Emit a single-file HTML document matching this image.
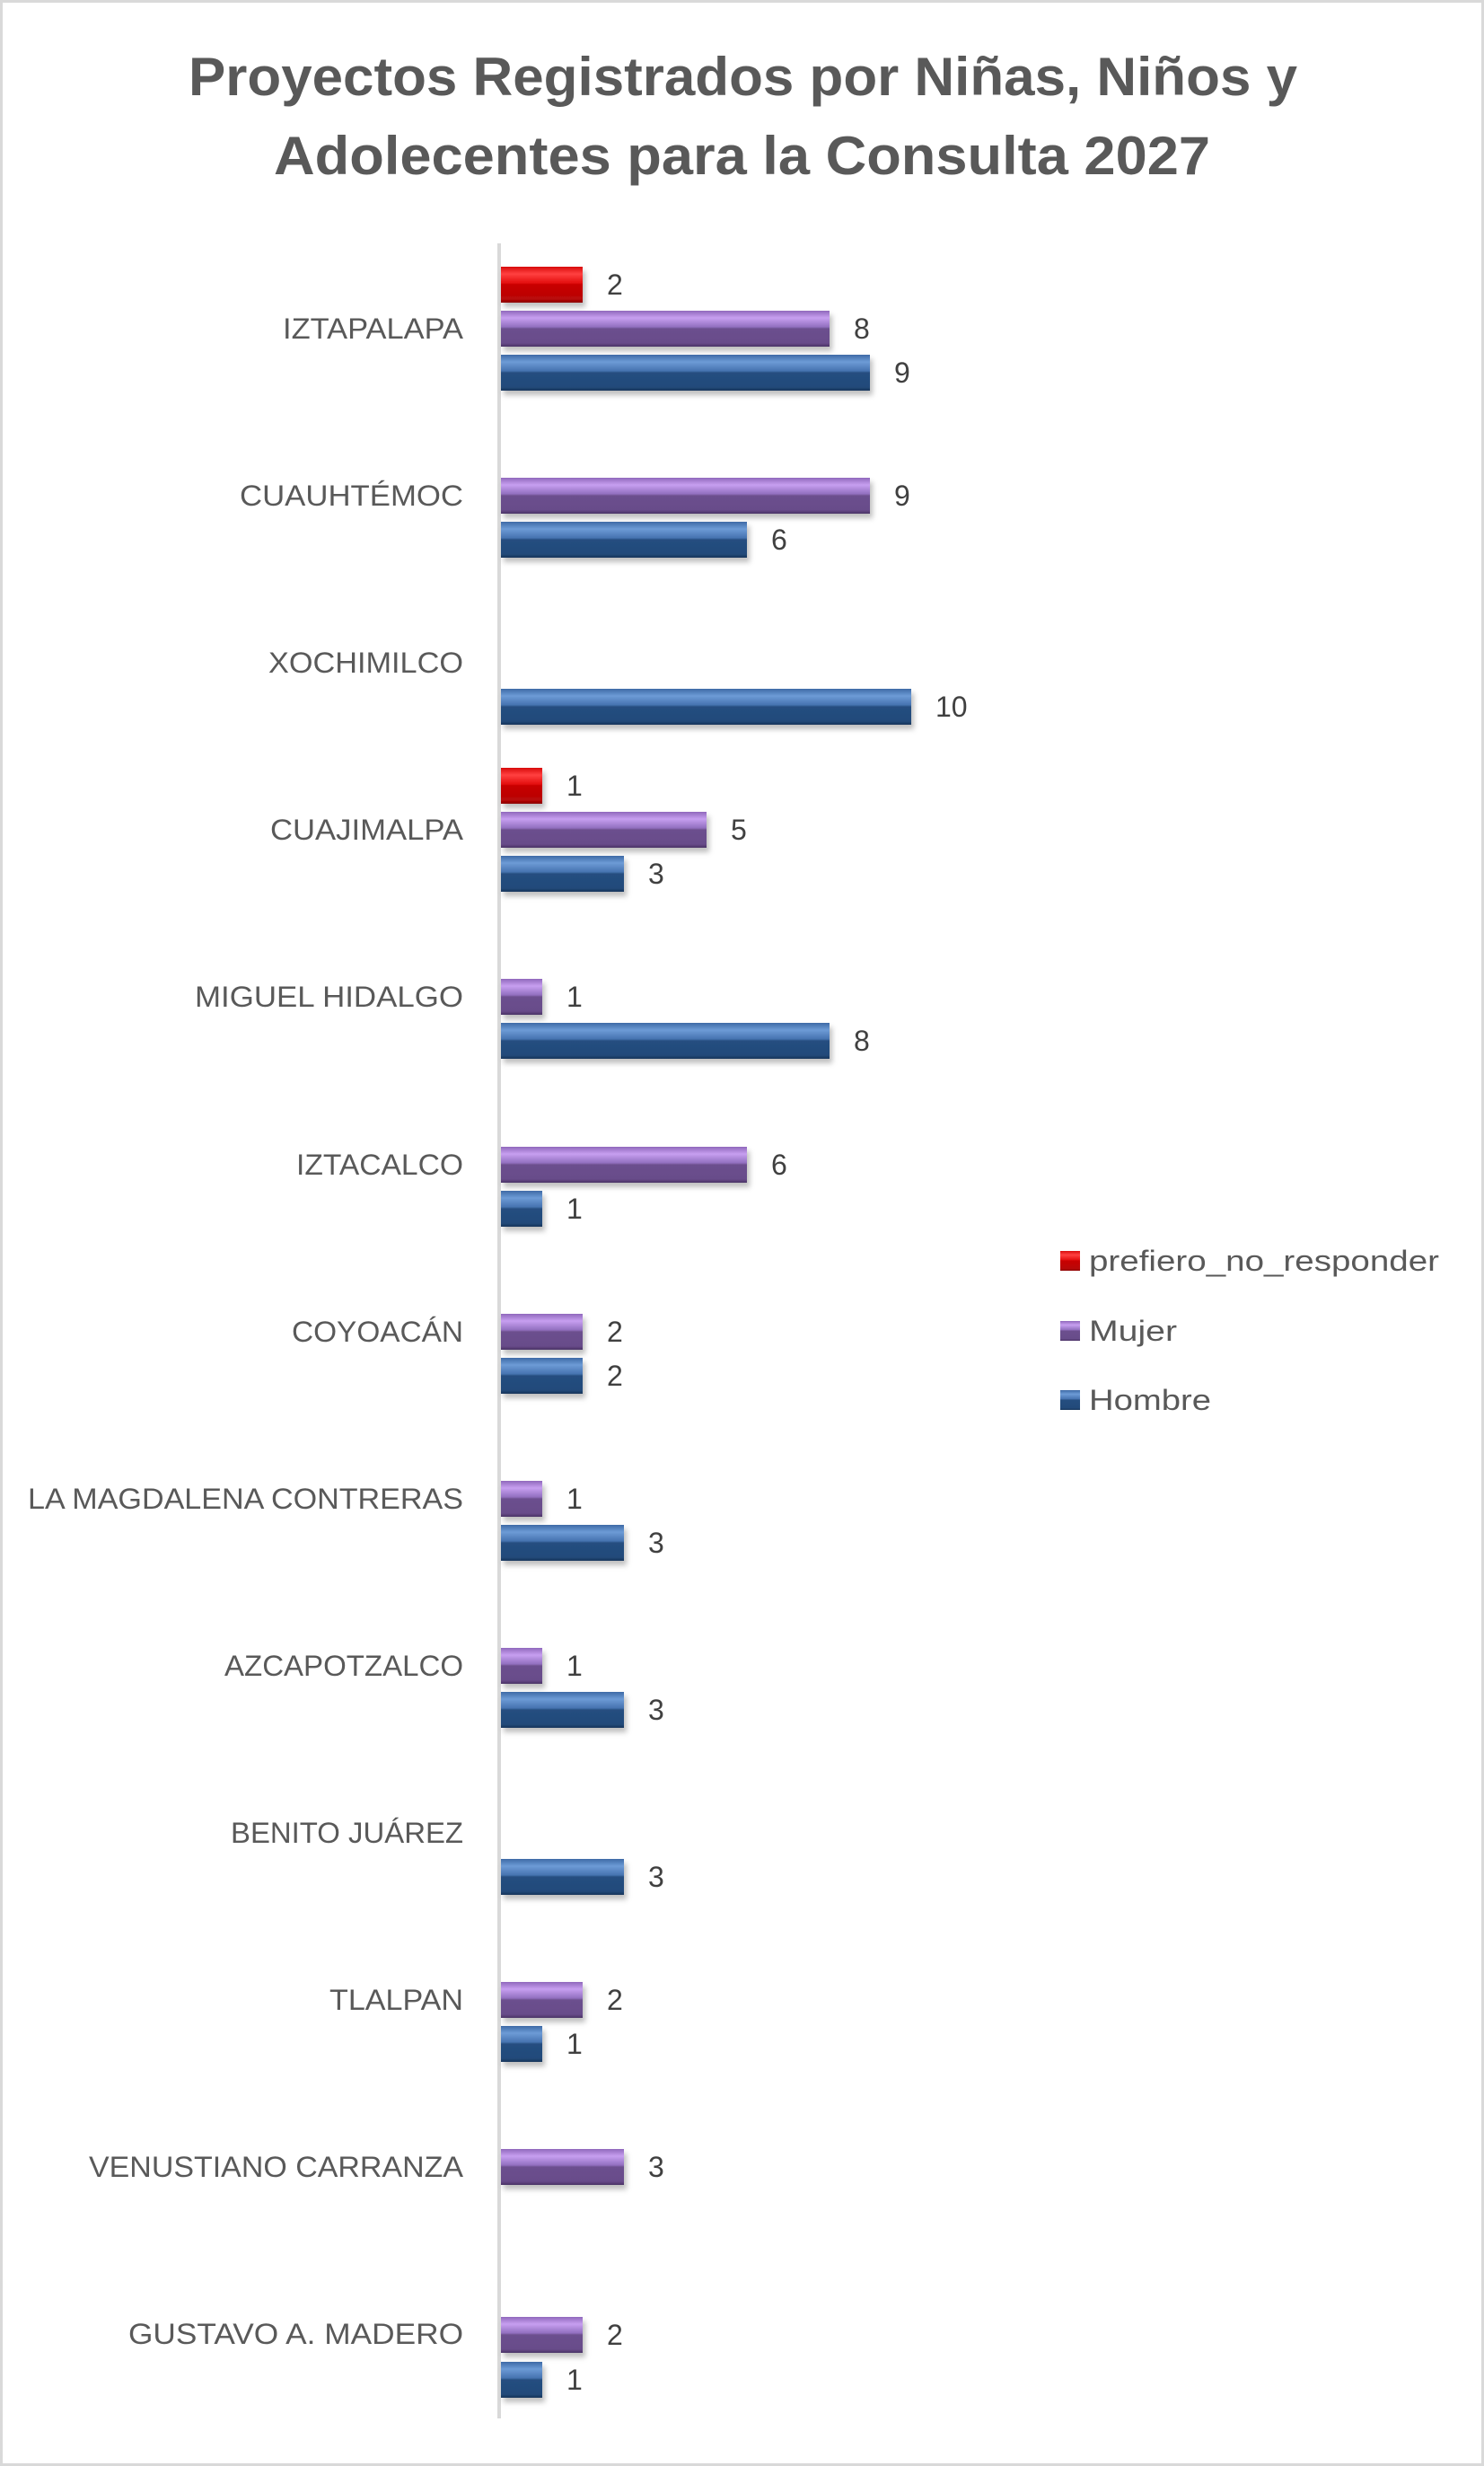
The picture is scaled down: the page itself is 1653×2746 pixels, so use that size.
<!DOCTYPE html>
<html><head><meta charset="utf-8"><style>
html,body{margin:0;padding:0;background:#fff;}
svg{display:block;}
</style></head><body>
<svg width="1653" height="2746" viewBox="0 0 1653 2746" xmlns="http://www.w3.org/2000/svg" font-family="Liberation Sans, sans-serif">
<defs>
<filter id="sh" x="-5%" y="-20%" width="115%" height="160%">
<feDropShadow dx="3" dy="5" stdDeviation="3" flood-color="#000" flood-opacity="0.25"/>
</filter>
<linearGradient id="gb" x1="0" y1="0" x2="0" y2="1">
<stop offset="0" stop-color="#3e6aa6"/><stop offset="0.2" stop-color="#6d9bd6"/><stop offset="0.45" stop-color="#4673b0"/><stop offset="0.5" stop-color="#254e80"/><stop offset="0.9" stop-color="#224a7a"/><stop offset="1" stop-color="#17355a"/>
</linearGradient>
<linearGradient id="gp" x1="0" y1="0" x2="0" y2="1">
<stop offset="0" stop-color="#9068bc"/><stop offset="0.2" stop-color="#c79ff0"/><stop offset="0.45" stop-color="#9270c0"/><stop offset="0.5" stop-color="#6c4f8e"/><stop offset="0.9" stop-color="#684c8a"/><stop offset="1" stop-color="#4a3266"/>
</linearGradient>
<linearGradient id="gr" x1="0" y1="0" x2="0" y2="1">
<stop offset="0" stop-color="#d80c0c"/><stop offset="0.2" stop-color="#ff4040"/><stop offset="0.45" stop-color="#e41010"/><stop offset="0.5" stop-color="#c80000"/><stop offset="0.9" stop-color="#b80808"/><stop offset="1" stop-color="#8a0000"/>
</linearGradient>
</defs>
<rect x="1.5" y="1.5" width="1650" height="2743" fill="#fff" stroke="#d9d9d9" stroke-width="3"/>
<g fill="#595959" font-weight="bold" font-size="60" text-anchor="start">
<text x="210" y="106" textLength="1235" lengthAdjust="spacingAndGlyphs">Proyectos Registrados por Niñas, Niños y</text>
<text x="305" y="194" textLength="1043" lengthAdjust="spacingAndGlyphs">Adolecentes para la Consulta 2027</text>
</g>
<rect x="554" y="271" width="4" height="2422" fill="#d9d9d9"/>
<g fill="#595959" font-size="32" text-anchor="end">
<text x="516" y="377" textLength="201" lengthAdjust="spacingAndGlyphs">IZTAPALAPA</text>
<text x="516" y="563" textLength="249" lengthAdjust="spacingAndGlyphs">CUAUHTÉMOC</text>
<text x="516" y="749" textLength="217" lengthAdjust="spacingAndGlyphs">XOCHIMILCO</text>
<text x="516" y="935" textLength="215" lengthAdjust="spacingAndGlyphs">CUAJIMALPA</text>
<text x="516" y="1121" textLength="299" lengthAdjust="spacingAndGlyphs">MIGUEL HIDALGO</text>
<text x="516" y="1308" textLength="186" lengthAdjust="spacingAndGlyphs">IZTACALCO</text>
<text x="516" y="1494" textLength="191" lengthAdjust="spacingAndGlyphs">COYOACÁN</text>
<text x="516" y="1680" textLength="485" lengthAdjust="spacingAndGlyphs">LA MAGDALENA CONTRERAS</text>
<text x="516" y="1866" textLength="266" lengthAdjust="spacingAndGlyphs">AZCAPOTZALCO</text>
<text x="516" y="2052" textLength="259" lengthAdjust="spacingAndGlyphs">BENITO JUÁREZ</text>
<text x="516" y="2238" textLength="149" lengthAdjust="spacingAndGlyphs">TLALPAN</text>
<text x="516" y="2424" textLength="417" lengthAdjust="spacingAndGlyphs">VENUSTIANO CARRANZA</text>
<text x="516" y="2610" textLength="373" lengthAdjust="spacingAndGlyphs">GUSTAVO A. MADERO</text>
</g>
<g filter="url(#sh)">
<rect x="558" y="297" width="91" height="40" fill="url(#gr)"/>
<rect x="558" y="346" width="366" height="40" fill="url(#gp)"/>
<rect x="558" y="395" width="411" height="40" fill="url(#gb)"/>
<rect x="558" y="532" width="411" height="40" fill="url(#gp)"/>
<rect x="558" y="581" width="274" height="40" fill="url(#gb)"/>
<rect x="558" y="767" width="457" height="40" fill="url(#gb)"/>
<rect x="558" y="855" width="46" height="40" fill="url(#gr)"/>
<rect x="558" y="904" width="229" height="40" fill="url(#gp)"/>
<rect x="558" y="953" width="137" height="40" fill="url(#gb)"/>
<rect x="558" y="1090" width="46" height="40" fill="url(#gp)"/>
<rect x="558" y="1139" width="366" height="40" fill="url(#gb)"/>
<rect x="558" y="1277" width="274" height="40" fill="url(#gp)"/>
<rect x="558" y="1326" width="46" height="40" fill="url(#gb)"/>
<rect x="558" y="1463" width="91" height="40" fill="url(#gp)"/>
<rect x="558" y="1512" width="91" height="40" fill="url(#gb)"/>
<rect x="558" y="1649" width="46" height="40" fill="url(#gp)"/>
<rect x="558" y="1698" width="137" height="40" fill="url(#gb)"/>
<rect x="558" y="1835" width="46" height="40" fill="url(#gp)"/>
<rect x="558" y="1884" width="137" height="40" fill="url(#gb)"/>
<rect x="558" y="2070" width="137" height="40" fill="url(#gb)"/>
<rect x="558" y="2207" width="91" height="40" fill="url(#gp)"/>
<rect x="558" y="2256" width="46" height="40" fill="url(#gb)"/>
<rect x="558" y="2393" width="137" height="40" fill="url(#gp)"/>
<rect x="558" y="2580" width="91" height="40" fill="url(#gp)"/>
<rect x="558" y="2630" width="46" height="40" fill="url(#gb)"/>
</g>
<g fill="#404040" font-size="32">
<text x="676" y="328">2</text>
<text x="951" y="377">8</text>
<text x="996" y="426">9</text>
<text x="996" y="563">9</text>
<text x="859" y="612">6</text>
<text x="1042" y="798">10</text>
<text x="631" y="886">1</text>
<text x="814" y="935">5</text>
<text x="722" y="984">3</text>
<text x="631" y="1121">1</text>
<text x="951" y="1170">8</text>
<text x="859" y="1308">6</text>
<text x="631" y="1357">1</text>
<text x="676" y="1494">2</text>
<text x="676" y="1543">2</text>
<text x="631" y="1680">1</text>
<text x="722" y="1729">3</text>
<text x="631" y="1866">1</text>
<text x="722" y="1915">3</text>
<text x="722" y="2101">3</text>
<text x="676" y="2238">2</text>
<text x="631" y="2287">1</text>
<text x="722" y="2424">3</text>
<text x="676" y="2611">2</text>
<text x="631" y="2661">1</text>
</g>
<rect x="1181" y="1393" width="22" height="22" fill="url(#gr)"/>
<rect x="1181" y="1471" width="22" height="22" fill="url(#gp)"/>
<rect x="1181" y="1548" width="22" height="22" fill="url(#gb)"/>
<g fill="#595959" font-size="32">
<text x="1213" y="1415" textLength="390" lengthAdjust="spacingAndGlyphs">prefiero_no_responder</text>
<text x="1213" y="1493" textLength="98" lengthAdjust="spacingAndGlyphs">Mujer</text>
<text x="1213" y="1570" textLength="136" lengthAdjust="spacingAndGlyphs">Hombre</text>
</g>
</svg>
</body></html>
